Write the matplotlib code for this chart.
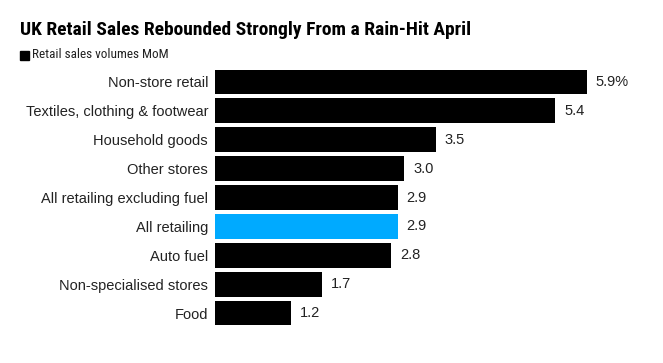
import matplotlib.pyplot as plt
from matplotlib.patches import Rectangle

categories = ["Non-store retail", "Textiles, clothing & footwear", "Household goods",
              "Other stores", "All retailing excluding fuel", "All retailing",
              "Auto fuel", "Non-specialised stores", "Food"]
values = [5.9, 5.4, 3.5, 3.0, 2.9, 2.9, 2.8, 1.7, 1.2]
value_labels = ["5.9%", "5.4", "3.5", "3.0", "2.9", "2.9", "2.8", "1.7", "1.2"]
highlight = "All retailing"

plt.rcParams['font.family'] = ['Liberation Sans', 'DejaVu Sans']
head_family = ['Roboto Condensed', 'Archivo Narrow', 'Liberation Sans']

W, H = 663, 363
fig = plt.figure(figsize=(W / 100, H / 100), dpi=100)

# axes placed in pixel terms: bars start at x=215, 63 px per unit
x0, px_per_unit, xmax = 215, 63, 6.0
top, bottom = 67.5, 327.5
ax = fig.add_axes([x0 / W, (H - bottom) / H, xmax * px_per_unit / W, (bottom - top) / H])

colors = ["#00aaff" if c == highlight else "black" for c in categories]
y = list(range(len(categories)))
ax.barh(y, values, height=0.86, color=colors)
ax.set_ylim(len(categories) - 0.5, -0.5)
ax.set_xlim(0, xmax)

for yi, v, lab in zip(y, values, value_labels):
    ax.text(v + 9 / px_per_unit, yi, lab, va="center", ha="left", fontsize=10.5, color="#222222", clip_on=False)

ax.set_yticks(y)
ax.set_yticklabels(categories, fontsize=10.5, color="#222222")
ax.tick_params(axis="y", length=0, pad=5)
ax.set_xticks([])
for s in ax.spines.values():
    s.set_visible(False)

fig.text(20 / W, 1 - 30 / H, "UK Retail Sales Rebounded Strongly From a Rain-Hit April",
         fontsize=14, fontweight="bold", va="center", ha="left", family=head_family)
fig.patches.append(Rectangle((20 / W, 1 - 60 / H), 9 / W, 9 / H, transform=fig.transFigure,
                             color="black", figure=fig))
fig.text(32 / W, 1 - 55 / H, "Retail sales volumes MoM", fontsize=9.5,
         va="center", ha="left", color="#222222", family=head_family)

fig.savefig("out.png", dpi=100)
